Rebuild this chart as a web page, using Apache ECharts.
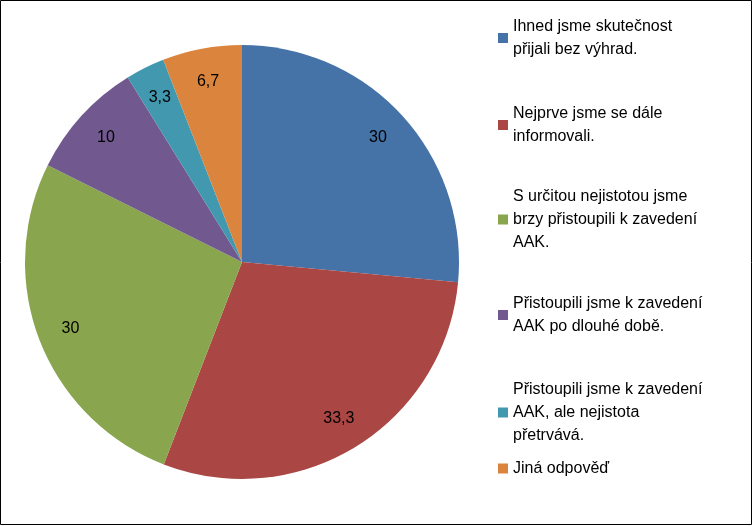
<!DOCTYPE html><html><head><meta charset="utf-8"><script src="https://cdn.jsdelivr.net/npm/echarts@6/dist/echarts.min.js"></script></head><body style="margin:0"><div id="c" style="width:753px;height:526px"></div><script>
const categories=["Ihned jsme skutečnost přijali bez výhrad.","Nejprve jsme se dále informovali.","S určitou nejistotou jsme brzy přistoupili k zavedení AAK.","Přistoupili jsme k zavedení AAK po dlouhé době.","Přistoupili jsme k zavedení AAK, ale nejistota přetrvává.","Jiná odpověď"];
const legendText=["Ihned jsme skutečnost\npřijali bez výhrad.","Nejprve jsme se dále\ninformovali.","S určitou nejistotou jsme\nbrzy přistoupili k zavedení\nAAK.","Přistoupili jsme k zavedení\nAAK po dlouhé době.","Přistoupili jsme k zavedení\nAAK, ale nejistota\npřetrvává.","Jiná odpověď"];
const values=[30,33.3,30,10,3.3,6.7];
const colors=['#4572A7','#AA4643','#89A54E','#71588F','#4198AF','#DB843D'];
const legendTops=[10,97,180,287,373,452];
const ch=echarts.init(document.getElementById('c'));
const font='Liberation Sans';
ch.setOption({
 animation:false,
 graphic:[{type:'rect',shape:{x:0.5,y:0.5,width:751,height:524},style:{fill:'#fff',stroke:'#000',lineWidth:1},z:-10}],
 legend:categories.map((n,i)=>({data:[n],orient:'vertical',left:493,top:legendTops[i],itemWidth:10,itemHeight:10,icon:'rect',itemGap:0,
   formatter:()=>legendText[i],textStyle:{fontFamily:font,fontSize:16,lineHeight:23,color:'#000'}})),
 series:[
  {type:'pie',center:[242,262],radius:[0,217],startAngle:90,clockwise:true,silent:true,
   data:categories.map((n,i)=>({name:n,value:values[i],itemStyle:{color:colors[i]}})),
   label:{show:false},labelLine:{show:false}},
  {type:'pie',center:[242,262],radius:[0,362],startAngle:90,clockwise:true,silent:true,
   data:categories.map((n,i)=>({name:n,value:values[i],itemStyle:{color:'rgba(0,0,0,0)'}})),
   label:{show:true,position:'inside',formatter:p=>String(p.value).replace('.',','),fontFamily:font,fontSize:16,color:'#000'},labelLine:{show:false}}
 ]
});
</script></body></html>
